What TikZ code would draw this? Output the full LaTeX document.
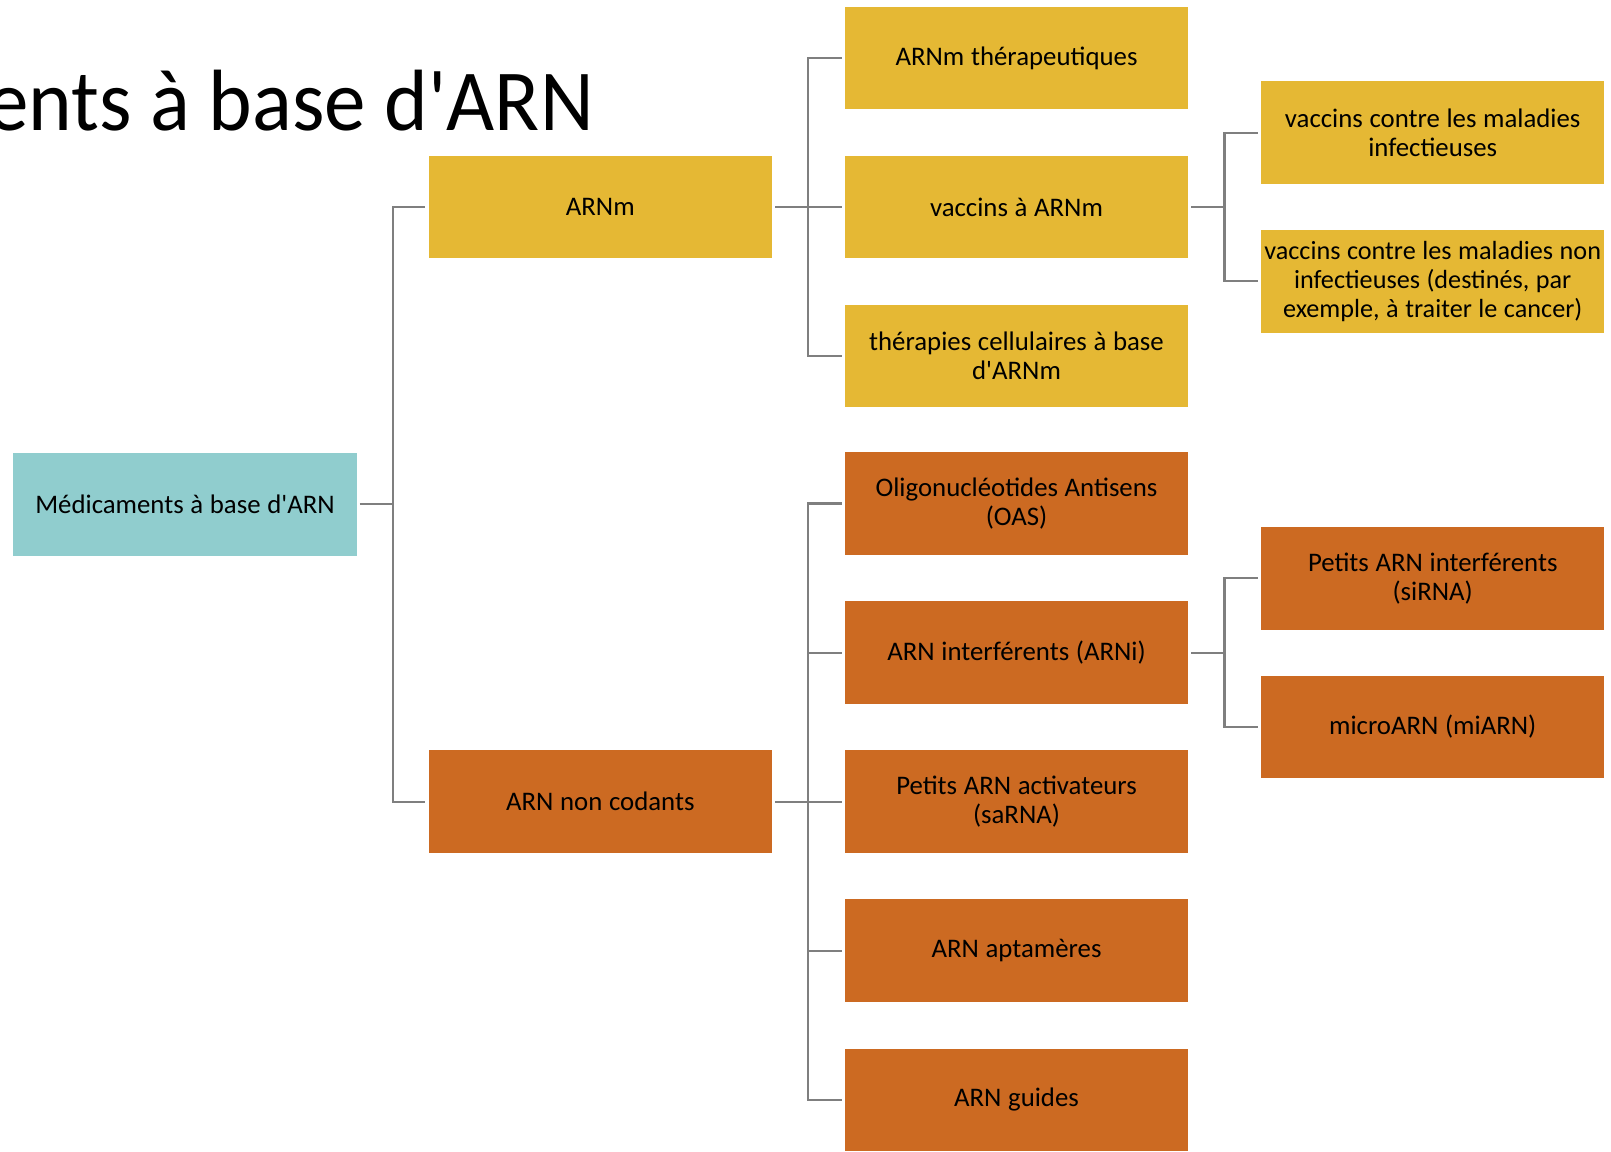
\documentclass[tikz,border=0pt]{standalone}
\usepackage{fontspec}
\setmainfont{Carlito}[Ligatures=TeXOff, WordSpace=1.1]
\newfontfamily\titlefont{Carlito}[Ligatures=TeXOff, FakeStretch=0.955]
\usepackage{xcolor}
\usetikzlibrary{positioning, calc}
\definecolor{arnteal}{RGB}{144,205,206}
\definecolor{arngold}{RGB}{229,184,52}
\definecolor{arnrust}{RGB}{204,106,34}
\definecolor{arnline}{RGB}{127,127,127}

\begin{document}
\begin{tikzpicture}[x=1pt, y=-1pt,
    box/.style={rectangle, minimum width=343.4pt, minimum height=102.7pt, align=center, inner sep=0pt, font=\fontsize{26.8}{28.9}\selectfont},
    mbox/.style={box, fill=arngold},
    nbox/.style={box, fill=arnrust},
    link/.style={draw=arnline, line width=2.2pt, shorten <=3pt, shorten >=3pt}]
    \useasboundingbox (0,0) rectangle (1611,1151);
    \clip (0,0) rectangle (1611,1151);

    \node (title) [anchor=base east, inner sep=0pt, font=\titlefont\fontsize{87}{100}\selectfont] at (594,130) {ents à base d'ARN};

    \node (root) [box, fill=arnteal] at (185,504.3) {Médicaments à base d'ARN};
    \node (arnm) [mbox] at (600.3,207) {ARNm};
    \node (noncod) [nbox] at (600.3,801.7) {ARN non codants};

    % ARNm branch
    \node (vacc) [mbox, right=72.4pt of arnm] {vaccins à ARNm};
    \node (ther) [mbox, above=46pt of vacc] {ARNm thérapeutiques};
    \node (cell) [mbox, below=46pt of vacc] {thérapies cellulaires à base\\d'ARNm};
    \node (vinf) [mbox, right=72.4pt of vacc, yshift=74.35pt] {vaccins contre les maladies\\infectieuses};
    \node (vnon) [mbox, right=72.4pt of vacc, yshift=-74.35pt, font=\fontsize{26.2}{28.9}\selectfont] {vaccins contre les maladies non\\infectieuses (destinés, par\\exemple, à traiter le cancer)};

    % non codants branch
    \node (sarna) [nbox, right=72.4pt of noncod] {Petits ARN activateurs\\(saRNA)};
    \node (arni) [nbox, above=46pt of sarna] {ARN interférents (ARNi)};
    \node (oas) [nbox, above=46pt of arni] {Oligonucléotides Antisens\\(OAS)};
    \node (apta) [nbox, below=46pt of sarna] {ARN aptamères};
    \node (guide) [nbox, below=46pt of apta] {ARN guides};
    \node (sirna) [nbox, right=72.4pt of arni, yshift=74.35pt] {Petits ARN interférents\\(siRNA)};
    \node (mirna) [nbox, right=72.4pt of arni, yshift=-74.35pt] {microARN (miARN)};

    \foreach \kid in {arnm, noncod}
        \draw[link] (root.east) -- ++(36,0) |- (\kid.west);
    \foreach \kid in {ther, vacc, cell}
        \draw[link] (arnm.east) -- ++(36,0) |- (\kid.west);
    \foreach \kid in {vinf, vnon}
        \draw[link] (vacc.east) -- ++(36,0) |- (\kid.west);
    \foreach \kid in {oas, arni, sarna, apta, guide}
        \draw[link] (noncod.east) -- ++(36,0) |- (\kid.west);
    \foreach \kid in {sirna, mirna}
        \draw[link] (arni.east) -- ++(36,0) |- (\kid.west);
\end{tikzpicture}
\end{document}
